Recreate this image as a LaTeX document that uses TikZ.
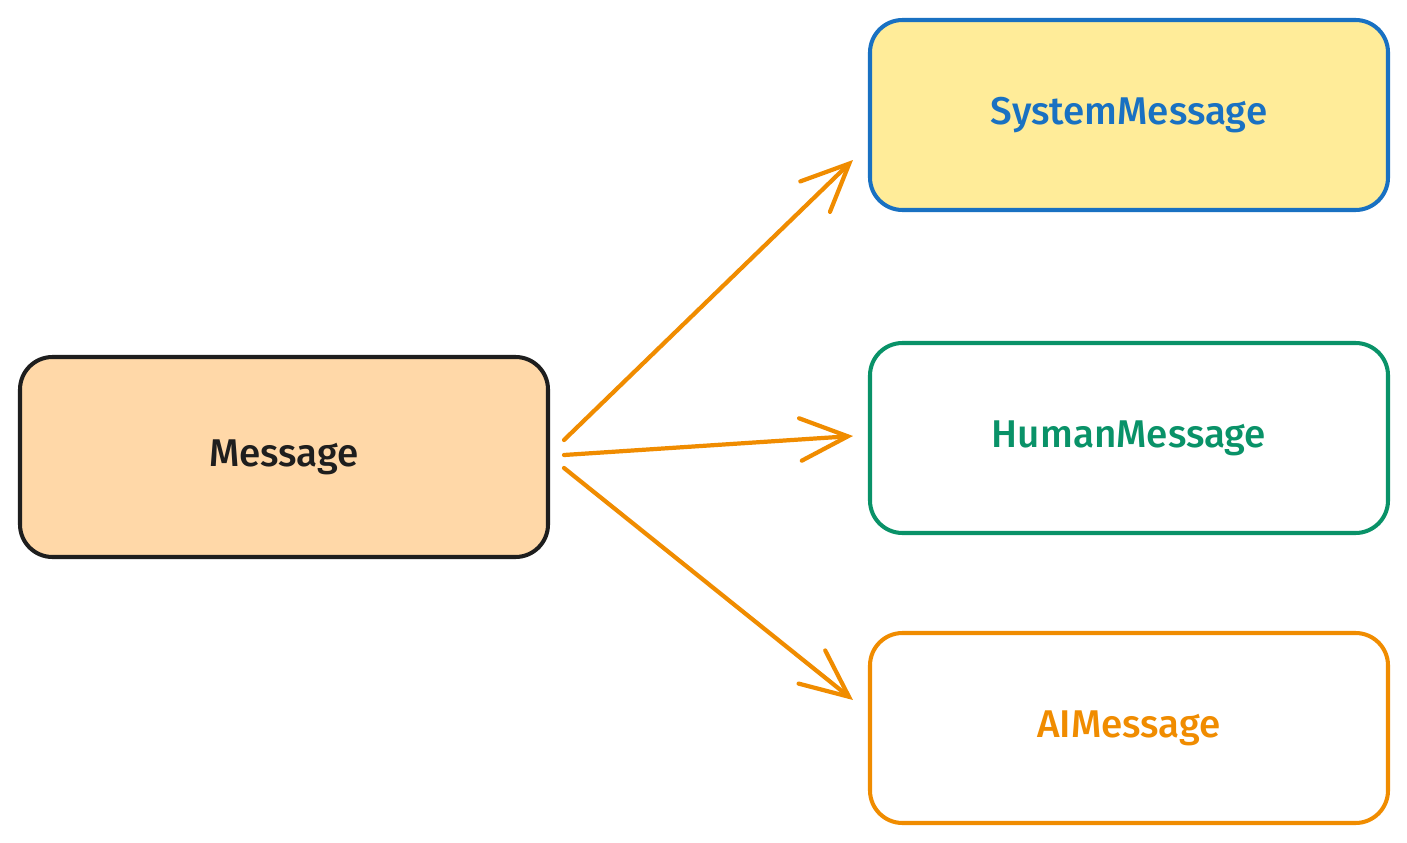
\documentclass[tikz,border=0pt]{standalone}
\usepackage{fontspec}
\setmainfont{Fira Sans}[UprightFont={* Medium}]
\usepackage{tikz}
\usetikzlibrary{arrows.meta,positioning}
\definecolor{msgdark}{RGB}{30,30,30}
\definecolor{msgpeach}{RGB}{255,216,168}
\definecolor{msgyellow}{RGB}{255,236,153}
\definecolor{msgblue}{RGB}{25,113,194}
\definecolor{msggreen}{RGB}{9,146,104}
\definecolor{msgorange}{RGB}{240,140,0}

\begin{document}
\begin{tikzpicture}[
  msgbox/.style={draw, line width=2.3pt, rounded corners=0.65cm, minimum width=10.36cm, minimum height=3.8cm, font=\fontsize{22}{26}\selectfont},
  arr/.style={draw=msgorange, line width=2.4pt, line cap=round, -{Straight Barb[length=0.95cm, width=0.85cm, line cap=round]}}
]
\useasboundingbox (0,0) rectangle (28.14,-16.86);
\fill[white] (0,0) rectangle (28.14,-16.86);

\node[msgbox, draw=msgdark, fill=msgpeach, text=msgdark, minimum width=10.56cm, minimum height=4cm] (msg) at (5.68,-9.14) {Message};
\node[msgbox, draw=msgblue, fill=msgyellow, text=msgblue] (sys) at (22.58,-2.3) {SystemMessage};
\node[msgbox, draw=msggreen, fill=white, text=msggreen] (hum) at (22.58,-8.76) {HumanMessage};
\node[msgbox, draw=msgorange, fill=white, text=msgorange] (ai) at (22.58,-14.56) {AIMessage};

% connectors
\draw[arr] ([xshift=0.28cm,yshift=0.34cm]msg.east) -- ([xshift=-0.3cm,yshift=-0.9cm]sys.west);
\draw[arr] ([xshift=0.28cm,yshift=0.04cm]msg.east) -- ([xshift=-0.3cm,yshift=0.04cm]hum.west);
\draw[arr] ([xshift=0.28cm,yshift=-0.22cm]msg.east) -- ([xshift=-0.3cm,yshift=0.56cm]ai.west);
\end{tikzpicture}
\end{document}
